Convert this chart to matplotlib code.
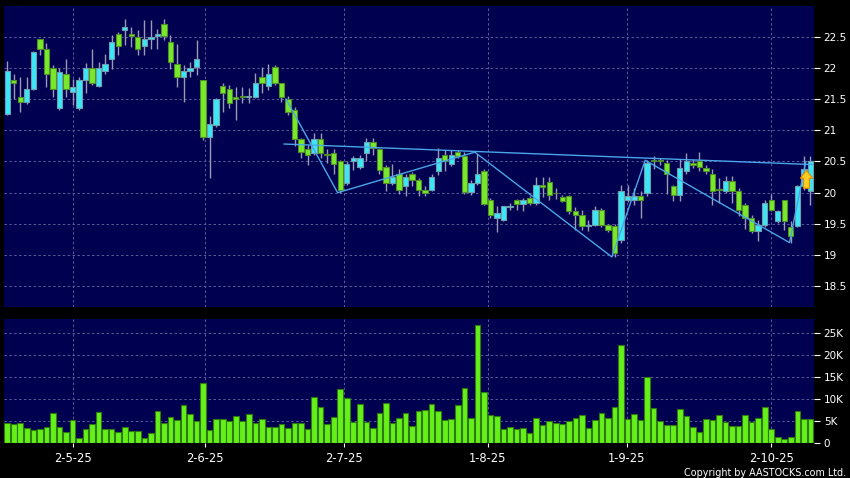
import matplotlib
matplotlib.use('Agg')
import matplotlib.pyplot as plt
import numpy as np
from matplotlib.patches import FancyArrow

# ---------------- data ----------------
opens = [21.26, 21.81, 21.54, 21.45, 21.66, 22.46, 22.30, 22.00, 21.35, 21.90,
         21.61, 21.35, 21.81, 22.00, 21.71, 21.95, 22.15, 22.55, 22.60, 22.55,
         22.50, 22.35, 22.46, 22.51, 22.70, 22.41, 22.06, 21.85, 21.95, 22.02,
         21.81, 20.90, 21.08, 21.71, 21.66, 21.54, 21.54, 21.54, 21.54, 21.85,
         21.71, 22.01, 21.75, 21.50, 21.33, 20.86, 20.70, 20.64, 20.86, 20.62,
         20.64, 20.50, 20.16, 20.51, 20.41, 20.64, 20.82, 20.70, 20.41, 20.16,
         20.30, 20.11, 20.30, 20.20, 20.05, 20.05, 20.35, 20.60, 20.46, 20.65,
         20.59, 20.01, 20.15, 20.35, 19.88, 19.60, 19.57, 19.77, 19.89, 19.82,
         19.91, 19.83, 20.13, 20.17, 20.00, 19.93, 19.95, 19.71, 19.65, 19.46,
         19.49, 19.73, 19.48, 19.46, 19.24, 19.89, 19.89, 19.95, 19.99, 20.52,
         20.52, 20.48, 20.10, 19.96, 20.35, 20.48, 20.51, 20.40, 20.30, 20.05,
         20.03, 20.19, 20.03, 19.80, 19.60, 19.38, 19.48, 19.88, 19.55, 19.89,
         19.45, 19.47, 20.10, 20.02]
highs = [22.11, 21.90, 21.85, 21.85, 22.27, 22.47, 22.40, 22.05, 22.00, 22.15,
         21.82, 21.86, 22.08, 22.30, 22.10, 22.23, 22.52, 22.58, 22.79, 22.65,
         22.61, 22.77, 22.77, 22.62, 22.79, 22.52, 22.39, 22.05, 22.10, 22.44,
         21.81, 21.23, 21.52, 21.75, 21.72, 21.69, 21.70, 21.67, 21.92, 22.02,
         22.06, 22.05, 21.75, 21.55, 21.38, 20.88, 20.76, 20.95, 20.95, 20.70,
         20.70, 20.52, 20.50, 20.59, 20.60, 20.87, 20.87, 20.72, 20.45, 20.46,
         20.38, 20.30, 20.33, 20.23, 20.10, 20.30, 20.71, 20.68, 20.68, 20.68,
         20.66, 20.20, 20.62, 20.38, 19.92, 19.79, 19.79, 19.83, 19.90, 19.92,
         19.95, 20.25, 20.25, 20.25, 20.08, 19.97, 19.97, 19.77, 19.73, 19.56,
         19.79, 19.75, 19.50, 19.50, 20.12, 20.12, 20.07, 20.03, 20.53, 20.59,
         20.56, 20.53, 20.12, 20.54, 20.63, 20.54, 20.66, 20.45, 20.38, 20.24,
         20.27, 20.27, 20.07, 19.84, 19.65, 19.56, 19.88, 19.98, 19.72, 19.89,
         19.55, 20.12, 20.58, 20.58]
lows = [21.24, 21.50, 21.30, 21.42, 21.64, 22.20, 21.70, 21.54, 21.33, 21.54,
        21.41, 21.33, 21.60, 21.73, 21.69, 21.90, 21.99, 22.20, 22.37, 22.33,
        22.20, 22.20, 22.30, 22.30, 22.45, 21.98, 21.69, 21.45, 21.85, 21.88,
        20.85, 20.23, 21.06, 21.30, 21.35, 21.17, 21.44, 21.43, 21.52, 21.60,
        21.65, 21.72, 21.45, 21.25, 20.75, 20.55, 20.44, 20.60, 20.55, 20.48,
        20.30, 20.00, 20.12, 20.36, 20.38, 20.50, 20.60, 20.30, 20.02, 20.13,
        19.98, 19.95, 20.10, 19.94, 19.95, 20.03, 20.28, 20.35, 20.42, 20.55,
        19.98, 19.97, 20.12, 19.80, 19.60, 19.37, 19.55, 19.72, 19.72, 19.70,
        19.80, 19.80, 19.93, 19.88, 19.90, 19.85, 19.66, 19.40, 19.40, 19.38,
        19.47, 19.45, 19.37, 18.97, 19.19, 19.85, 19.80, 19.60, 19.94, 20.38,
        20.45, 19.98, 19.86, 19.86, 20.30, 20.40, 20.35, 20.30, 19.81, 19.84,
        20.00, 19.84, 19.62, 19.42, 19.35, 19.23, 19.45, 19.70, 19.52, 19.40,
        19.20, 19.45, 20.05, 19.81]
closes = [21.95, 21.75, 21.45, 21.66, 22.25, 22.30, 21.90, 21.66, 21.94, 21.66,
          21.70, 21.81, 22.00, 21.75, 22.00, 22.06, 22.41, 22.35, 22.65, 22.51,
          22.30, 22.46, 22.50, 22.55, 22.51, 22.10, 21.85, 21.95, 22.00, 22.15,
          20.90, 21.10, 21.50, 21.60, 21.44, 21.50, 21.53, 21.54, 21.75, 21.75,
          21.90, 21.75, 21.54, 21.30, 20.86, 20.66, 20.60, 20.86, 20.64, 20.61,
          20.46, 20.05, 20.46, 20.55, 20.55, 20.82, 20.71, 20.36, 20.16, 20.25,
          20.05, 20.25, 20.20, 20.05, 20.00, 20.25, 20.55, 20.51, 20.60, 20.59,
          20.01, 20.15, 20.30, 19.82, 19.65, 19.67, 19.79, 19.79, 19.82, 19.89,
          19.83, 20.13, 20.09, 19.97, 19.99, 19.87, 19.70, 19.65, 19.46, 19.49,
          19.73, 19.49, 19.40, 19.04, 20.03, 19.95, 19.95, 19.89, 20.48, 20.51,
          20.50, 20.30, 19.96, 20.40, 20.51, 20.44, 20.41, 20.35, 20.02, 20.04,
          20.19, 20.03, 19.73, 19.60, 19.38, 19.48, 19.84, 19.72, 19.70, 19.54,
          19.30, 20.10, 20.38, 20.51]
volumes_k = [4.7, 4.3, 4.7, 3.5, 2.9, 3.2, 3.7, 6.8, 3.7, 2.5,
             5.3, 1.3, 3.2, 4.3, 7.0, 3.2, 3.2, 2.5, 3.7, 2.7,
             2.7, 1.3, 2.3, 7.3, 4.7, 5.9, 5.2, 8.7, 6.6, 5.0,
             13.6, 2.9, 5.4, 5.4, 5.0, 6.2, 5.0, 6.7, 4.6, 5.5,
             3.7, 3.7, 4.4, 3.4, 4.5, 4.5, 3.2, 10.4, 8.1, 4.4,
             5.9, 12.2, 10.2, 4.8, 8.9, 4.9, 3.4, 6.8, 9.0, 4.5,
             5.8, 6.9, 3.8, 7.4, 7.6, 8.9, 7.3, 5.3, 5.5, 8.6,
             12.4, 5.8, 26.7, 11.6, 6.4, 6.2, 3.2, 3.6, 3.2, 3.4,
             2.4, 5.8, 4.1, 5.1, 4.6, 4.4, 5.0, 5.8, 6.5, 3.4,
             5.3, 6.8, 5.8, 8.3, 22.2, 5.5, 6.6, 5.3, 15.0, 7.9,
             5.0, 4.2, 4.2, 7.8, 6.1, 3.7, 2.5, 5.6, 5.3, 6.5,
             4.8, 3.9, 3.9, 6.4, 4.8, 5.8, 8.3, 3.2, 1.5, 1.0,
             1.5, 7.4, 5.6, 5.6]

date_tick_pos = [10.0, 30.3, 51.5, 73.6, 94.9, 117.0]
date_tick_labels = ['2-5-25', '2-6-25', '2-7-25', '1-8-25', '1-9-25', '2-10-25']
price_ticks = [18.5, 19, 19.5, 20, 20.5, 21, 21.5, 22, 22.5]
price_tick_labels = ['18.5', '19', '19.5', '20', '20.5', '21', '21.5', '22', '22.5']
vol_ticks = [0, 5, 10, 15, 20, 25]
vol_tick_labels = ['0', '5K', '10K', '15K', '20K', '25K']

zigzag_x = [42.7, 50.6, 71.6, 92.6, 97.7, 119.8, 122.3]
zigzag_y = [21.50, 20.00, 20.65, 18.97, 20.52, 19.20, 20.50]
neckline_x = [42.4, 123.5]
neckline_y = [20.78, 20.45]
arrow_x = 122.4
arrow_base = 20.07
arrow_tip = 20.36

# ---------------- style ----------------
BG = '#000050'
GRID = '#5c5c9c'
UP_FACE, UP_EDGE = '#3CE6F5', '#6f9fae'
DN_FACE, DN_EDGE = '#7AE82A', '#4f8f2a'
WICK = '#9a9ab4'
VOL_FACE, VOL_EDGE = '#66F01A', '#2e7a10'
LINE = '#4aa6e6'

W, H = 850, 478
fig = plt.figure(figsize=(W / 100, H / 100), dpi=100, facecolor='black')
ax = fig.add_axes([4 / W, (H - 306.5) / H, 810 / W, 300.5 / H], facecolor=BG)
axv = fig.add_axes([4 / W, (H - 443.3) / H, 810 / W, 124.3 / H], facecolor=BG)

n = len(closes)
x = np.arange(n)
o = np.array(opens); c = np.array(closes)
hi = np.array(highs); lo = np.array(lows)
up = c >= o

ax.vlines(x, lo, hi, color=WICK, lw=1.0, zorder=2)
bottom = np.minimum(o, c)
height = np.maximum(np.abs(c - o), 0.012)
ax.bar(x[up], height[up], bottom=bottom[up], width=0.82, color=UP_FACE,
       edgecolor=UP_EDGE, linewidth=0.8, zorder=3)
ax.bar(x[~up], height[~up], bottom=bottom[~up], width=0.82, color=DN_FACE,
       edgecolor=DN_EDGE, linewidth=0.8, zorder=3)

ax.plot(neckline_x, neckline_y, color=LINE, lw=1.0, zorder=4)
ax.plot(zigzag_x, zigzag_y, color=LINE, lw=1.0, zorder=4)

arr = FancyArrow(arrow_x, arrow_base, 0, arrow_tip - arrow_base, width=0.9,
                 head_width=1.9, head_length=0.13, length_includes_head=True,
                 facecolor='#FFCC22', edgecolor='#E08A00', linewidth=0.8, zorder=6)
ax.add_patch(arr)

axv.bar(x, volumes_k, width=0.86, color=VOL_FACE, edgecolor=VOL_EDGE,
        linewidth=0.8, zorder=3)

xlim = (-0.49, 123.55)
for a in (ax, axv):
    a.set_xlim(*xlim)
    for s in a.spines.values():
        s.set_visible(False)
    a.yaxis.tick_right()
    a.tick_params(axis='y', colors='white', labelcolor='white', length=4,
                  width=0.8, pad=3, labelsize=7.5, direction='out')
    a.set_xticks(date_tick_pos)
    a.grid(True, color=GRID, lw=0.7, linestyle=(0, (2.5, 2.5)), zorder=1)
    a.set_axisbelow(True)

ax.set_ylim(18.176, 22.992)
ax.set_yticks(price_ticks)
ax.set_yticklabels(price_tick_labels)
ax.tick_params(axis='x', length=0, labelbottom=False)

axv.set_ylim(0, 28.1)
axv.set_yticks(vol_ticks)
axv.set_yticklabels(vol_tick_labels)
axv.set_xticklabels(date_tick_labels)
axv.tick_params(axis='x', colors='white', labelcolor='white', length=3,
                width=0.8, pad=3.5, labelsize=8.3, direction='out')

fig.text(846 / W, 1 - 472.5 / H, 'Copyright by AASTOCKS.com Ltd.', color='white',
         fontsize=6.9, ha='right', va='center')

fig.savefig('out.png', dpi=100, facecolor='black')
